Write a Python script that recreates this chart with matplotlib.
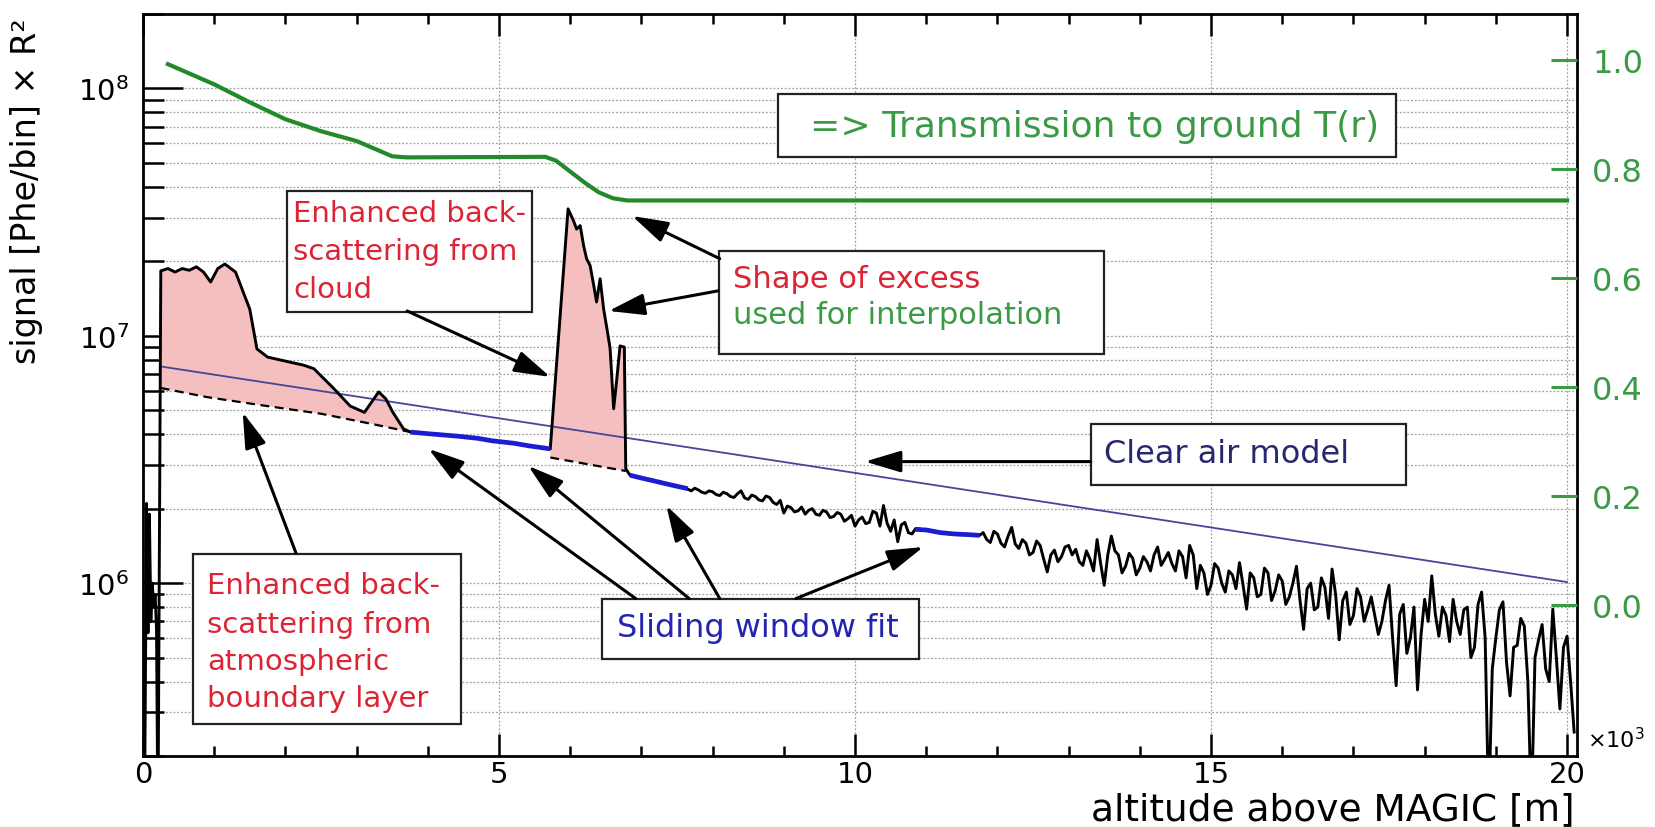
import numpy as np
import matplotlib
matplotlib.use("Agg")
import matplotlib.pyplot as plt
from matplotlib.patches import Rectangle
from matplotlib.ticker import FixedLocator, LogLocator, NullFormatter, LogFormatterSciNotation

plt.rcParams['font.family'] = ['DejaVu Sans']
plt.rcParams['mathtext.fontset'] = 'dejavusans'

# ------------------------------------------------------------------ data
SCALE = 1e6  # signal values below are in units of 1e6 Phe/bin * R^2

# near range incl. boundary layer
near_x = [0.02, 0.05, 0.07, 0.09, 0.11, 0.13, 0.15, 0.17, 0.19, 0.21, 0.25,
          0.35, 0.45, 0.55, 0.65, 0.75, 0.85, 0.95, 1.05, 1.15, 1.30, 1.50,
          1.60, 1.75, 2.00, 2.26, 2.40, 2.66, 2.91, 3.11, 3.31, 3.41, 3.51,
          3.66, 3.76]
near_sig = [0.10, 2.10, 0.63, 1.90, 0.70, 1.00, 0.80, 0.90, 0.65, 0.10, 18.3,
            18.7, 18.1, 18.7, 18.4, 19.0, 18.1, 16.5, 18.7, 19.5, 18.1, 12.8,
            8.85, 8.2, 7.9, 7.6, 7.36, 6.2, 5.2, 4.9, 5.93, 5.56, 4.9,
            4.2, 4.08]

# first sliding-window fit region
fit1_x = [3.76, 4.00, 4.41, 4.70, 4.91, 5.20, 5.42, 5.72]
fit1_sig = [4.08, 4.02, 3.93, 3.85, 3.76, 3.68, 3.59, 3.49]

# cloud
cloud_x = [5.72, 5.97, 6.05, 6.09, 6.14, 6.19, 6.23, 6.28, 6.33, 6.37, 6.42,
           6.47, 6.52, 6.56, 6.61, 6.65, 6.70, 6.76, 6.78]
cloud_sig = [3.49, 32.6, 29.0, 27.0, 27.9, 23.0, 20.5, 19.2, 16.0, 13.7, 17.0,
             12.8, 10.5, 8.9, 5.07, 6.5, 9.1, 9.0, 2.9]

# second fit region
fit2_x = [6.84, 7.00, 7.20, 7.40, 7.65]
fit2_sig = [2.73, 2.66, 2.58, 2.50, 2.41]

# far range, binned every 0.05 km starting at 6.90 km
tail_start, tail_step = 6.90, 0.05
tail_sig = [
    2.70, 2.68, 2.66, 2.65, 2.63, 2.60, 2.58, 2.57, 2.55, 2.53,   # 6.90
    2.51, 2.49, 2.47, 2.45, 2.43, 2.40, 2.36, 2.42, 2.38, 2.33,   # 7.40
    2.31, 2.36, 2.34, 2.28, 2.26, 2.33, 2.30, 2.24, 2.22, 2.30,   # 7.90
    2.36, 2.21, 2.18, 2.27, 2.24, 2.17, 2.15, 2.25, 2.22, 2.12,   # 8.40
    2.08, 2.16, 1.92, 2.05, 2.02, 1.94, 1.96, 2.03, 1.90, 1.97,   # 8.90
    2.00, 1.90, 1.88, 1.97, 1.94, 1.84, 1.86, 1.93, 1.90, 1.78,   # 9.40
    1.82, 1.88, 1.70, 1.80, 1.85, 1.74, 1.76, 1.95, 1.92, 1.70,   # 9.90
    2.06, 1.75, 1.62, 1.80, 1.47, 1.72, 1.76, 1.60, 1.58, 1.66,   # 10.40
    1.66, 1.64, 1.64, 1.63, 1.62, 1.61, 1.60, 1.60, 1.59, 1.58,   # 10.90
    1.58, 1.58, 1.57, 1.57, 1.57, 1.56, 1.56, 1.56, 1.60, 1.50,   # 11.40
    1.46, 1.62, 1.58, 1.45, 1.40, 1.55, 1.68, 1.44, 1.38, 1.50,   # 11.90
    1.45, 1.30, 1.33, 1.48, 1.42, 1.25, 1.11, 1.30, 1.36, 1.22,   # 12.40
    1.28, 1.40, 1.42, 1.30, 1.37, 1.22, 1.18, 1.35, 1.25, 1.12,   # 12.90
    1.50, 1.20, 0.98, 1.30, 1.55, 1.35, 1.30, 1.10, 1.17, 1.32,   # 13.40
    1.26, 1.08, 1.15, 1.28, 1.22, 1.12, 1.30, 1.40, 1.18, 1.25,   # 13.90
    1.33, 1.20, 1.12, 1.35, 1.28, 1.05, 1.42, 1.30, 0.95, 1.18,   # 14.40
    1.10, 0.90, 0.98, 1.20, 1.15, 1.00, 0.92, 1.12, 1.08, 0.95,   # 14.90
    1.21, 0.98, 0.785, 1.10, 1.05, 0.88, 0.90, 1.15, 1.10, 0.85,  # 15.40
    0.93, 1.08, 1.02, 0.82, 0.88, 1.00, 1.17, 0.85, 0.65, 0.95,   # 15.90
    1.00, 0.78, 0.80, 1.05, 0.96, 0.72, 1.14, 0.90, 0.59, 0.85,   # 16.40
    0.92, 0.68, 0.74, 0.95, 0.88, 0.70, 0.78, 0.88, 0.74, 0.62,   # 16.90
    0.70, 0.85, 0.98, 0.60, 0.385, 0.75, 0.82, 0.52, 0.60, 0.80,  # 17.40
    0.37, 0.62, 0.86, 0.70, 1.07, 0.75, 0.61, 0.80, 0.74, 0.58,   # 17.90
    0.86, 0.70, 0.62, 0.78, 0.80, 0.50, 0.55, 0.82, 0.92, 0.60,   # 18.40
    0.12, 0.45, 0.60, 0.78, 0.84, 0.48, 0.35, 0.55, 0.56, 0.72,   # 18.90
    0.67, 0.40, 0.12, 0.50, 0.59, 0.68, 0.45, 0.40, 0.785, 0.50,  # 19.40
    0.31, 0.55, 0.61, 0.40, 0.25,                                 # 19.90
]

# third fit region
fit3_x = [10.84, 11.00, 11.20, 11.40, 11.60, 11.75]
fit3_sig = [1.65, 1.64, 1.60, 1.58, 1.57, 1.56]

# interpolated baselines (dashed)
bl_dash_x = [0.25, 0.90, 1.70, 2.50, 3.20, 3.76]
bl_dash_sig = [6.15, 5.65, 5.22, 4.84, 4.41, 4.08]
cl_dash_x = [5.72, 6.78]
cl_dash_sig = [3.22, 2.84]

# clear air model
clear_x = [0.27, 20.0]
clear_sig = [7.5, 1.01]

# transmission to ground T(r) (right axis)
trans_x = [0.35, 1.0, 1.5, 2.0, 2.5, 3.0, 3.5, 3.7, 5.65, 5.8, 6.0, 6.2,
           6.4, 6.6, 6.8, 20.0]
trans_T = [0.992, 0.955, 0.922, 0.891, 0.869, 0.851, 0.823, 0.821, 0.822,
           0.815, 0.795, 0.775, 0.757, 0.746, 0.742, 0.742]

x_major = [0, 5, 10, 15, 20]
x_minor = list(range(1, 21))
t_ticks = [0.0, 0.2, 0.4, 0.6, 0.8, 1.0]
t_labels = ["0.0", "0.2", "0.4", "0.6", "0.8", "1.0"]

# ------------------------------------------------------------------ style
PINK = '#f6bfbf'
GREEN_LINE = '#238a2c'
GREEN_TXT = '#3a9a45'
RED_TXT = '#dc2434'
BLUE_FIT = '#1c1cd2'
BLUE_TXT = '#2424b0'
NAVY_TXT = '#27276e'
CLEAR_COL = '#45459a'
GRID_COL = '#a0a0a0'

W, H = 1655, 828
L, R, T, B = 143, 1577, 15, 757
fig = plt.figure(figsize=(W / 100, H / 100), dpi=100)
ax = fig.add_axes([L / W, 1 - B / H, (R - L) / W, (B - T) / H])
ax.set_yscale('log')
ax.set_xlim(0, 20.14)
ax.set_ylim(2.0e5, 2.0e8)


def s(v):
    return np.asarray(v, dtype=float) * SCALE


tail_x = tail_start + tail_step * np.arange(len(tail_sig))
sig_x = np.concatenate([near_x, fit1_x[1:], cloud_x[1:], fit2_x[:1], tail_x])
sig_y = np.concatenate([near_sig, fit1_sig[1:], cloud_sig[1:], fit2_sig[:1], tail_sig])

# pink excess areas
i0 = near_x.index(0.25)
ax.fill(near_x[i0:] + bl_dash_x[::-1], s(near_sig[i0:] + bl_dash_sig[::-1]),
        color=PINK, lw=0, zorder=2)
ax.fill(cloud_x + cl_dash_x[::-1], s(cloud_sig + cl_dash_sig[::-1]),
        color=PINK, lw=0, zorder=2)

ax.plot(clear_x, s(clear_sig), color=CLEAR_COL, lw=1.3, zorder=3)
ax.plot(bl_dash_x, s(bl_dash_sig), color='black', lw=1.6, ls=(0, (4, 2.5)), zorder=3)
ax.plot(cl_dash_x, s(cl_dash_sig), color='black', lw=1.6, ls=(0, (4, 2.5)), zorder=3)
ax.plot(sig_x, s(sig_y), color='black', lw=2.1, zorder=4)
for fx, fy in ((fit1_x, fit1_sig), (fit2_x, fit2_sig), (fit3_x, fit3_sig)):
    ax.plot(fx, s(fy), color=BLUE_FIT, lw=3.4, zorder=5, solid_capstyle='butt')

# axes styling
ax.set_axisbelow(True)
ax.xaxis.set_major_locator(FixedLocator(x_major))
ax.xaxis.set_minor_locator(FixedLocator(x_minor))
ax.yaxis.set_major_locator(LogLocator(base=10))
ax.yaxis.set_minor_locator(LogLocator(base=10, subs=np.arange(2, 10)))
ax.yaxis.set_major_formatter(LogFormatterSciNotation())
ax.yaxis.set_minor_formatter(NullFormatter())
ax.tick_params(axis='x', which='major', direction='in', length=16, width=1.8,
               top=True, labelsize=21, pad=3)
ax.tick_params(axis='x', which='minor', direction='in', length=7.5, width=1.8, top=True)
ax.tick_params(axis='y', which='major', direction='in', length=29, width=1.8,
               right=False, labelsize=21, pad=10)
ax.tick_params(axis='y', which='minor', direction='in', length=15, width=1.8, right=False)
ax.grid(True, which='both', axis='y', color=GRID_COL, ls=(0, (1.5, 1.5)), lw=0.9)
ax.grid(True, which='major', axis='x', color=GRID_COL, ls=(0, (1.5, 1.5)), lw=0.9)
for sp in ax.spines.values():
    sp.set_linewidth(2.0)

ax.set_xlabel('altitude above MAGIC [m]', fontsize=27, loc='right')
ax.xaxis.label.set_va('baseline')
ax.xaxis.set_label_coords(0.9986, -0.0849)
ax.set_ylabel('signal [Phe/bin] × R²', fontsize=24, loc='top')
ax.yaxis.label.set_va('baseline')
ax.yaxis.set_label_coords(-0.0746, 0.996)

fig.text(1587 / W, 1 - 748 / H, r'$\times10^{3}$', fontsize=16, ha='left', va='baseline')

# right axis: transmission
ax2 = ax.twinx()
ax2.set_ylim(-0.277, 1.084)
ax2.plot(trans_x, trans_T, color=GREEN_LINE, lw=3.0, zorder=3)
ax2.yaxis.set_major_locator(FixedLocator(t_ticks))
ax2.set_yticklabels(t_labels)
ax2.tick_params(axis='y', direction='in', length=19, width=2.2, color=GREEN_TXT,
                labelcolor=GREEN_TXT, labelsize=23, pad=11)
for sp in ax2.spines.values():
    sp.set_visible(False)
ax2.set_xlim(ax.get_xlim())


# text boxes (layout in axes fraction)
def box(x0, y0, w, h):
    ax2.add_patch(Rectangle((x0, y0), w, h, transform=ax.transAxes, fc='white',
                            ec='#222222', lw=1.6, zorder=6))


def txt(x, y, t, col, size, ha='left'):
    ax2.text(x, y, t, transform=ax.transAxes, color=col, fontsize=size,
             ha=ha, va='baseline', zorder=7)


box(0.4428, 0.8073, 0.4310, 0.0849)
txt(0.6635, 0.8356, '=> Transmission to ground T(r)', GREEN_TXT, 26, ha='center')

box(0.1007, 0.5984, 0.1705, 0.1631)
for yy, t in zip((0.7210, 0.6698, 0.6186), ('Enhanced back-', 'scattering from', 'cloud')):
    txt(0.1046, yy, t, RED_TXT, 21)

box(0.0349, 0.0431, 0.1869, 0.2291)
for yy, t in zip((0.2197, 0.1675, 0.1173, 0.0674),
                 ('Enhanced back-', 'scattering from', 'atmospheric', 'boundary layer')):
    txt(0.0446, yy, t, RED_TXT, 21)

box(0.4017, 0.5418, 0.2688, 0.1388)
txt(0.4114, 0.6321, 'Shape of excess', RED_TXT, 22)
txt(0.4114, 0.5836, 'used for interpolation', GREEN_TXT, 22)

box(0.6611, 0.3652, 0.2197, 0.0822)
txt(0.6702, 0.3962, 'Clear air model', NAVY_TXT, 23)

box(0.3201, 0.1307, 0.2211, 0.0809)
txt(0.3302, 0.1617, 'Sliding window fit', BLUE_TXT, 23)

# arrows (tail -> head), in data coordinates of the signal axis
arrows = [
    ((3.71, 1.26e7), (5.72, 6.82e6)),
    ((2.15, 1.32e6), (1.40, 4.91e6)),
    ((6.92, 8.66e5), (4.01, 3.49e6)),
    ((7.67, 8.66e5), (5.41, 2.98e6)),
    ((8.10, 8.66e5), (7.35, 2.06e6)),
    ((9.17, 8.66e5), (10.96, 1.40e6)),
    ((8.10, 2.05e7), (6.87, 3.05e7)),
    ((8.08, 1.52e7), (6.54, 1.26e7)),
    ((13.31, 3.1e6), (10.14, 3.1e6)),
]
for tail, head in arrows:
    ax2.annotate('', xy=head, xytext=tail, xycoords=ax.transData,
                 textcoords=ax.transData, zorder=8,
                 arrowprops=dict(arrowstyle='-|>,head_length=1.1,head_width=0.33',
                                 mutation_scale=20, lw=2.2, color='black',
                                 shrinkA=0, shrinkB=0))

fig.savefig('out.png', dpi=100)
